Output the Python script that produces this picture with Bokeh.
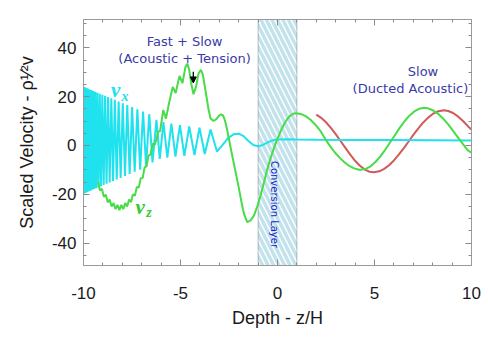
from bokeh.plotting import figure
from bokeh.models import (Range1d, FixedTicker, LinearAxis, BoxAnnotation,
                          Label, Arrow, NormalHead)
from bokeh.embed import file_html
from bokeh.resources import INLINE

# ---------------- data ----------------
# v_x : dense fast oscillation (extrema), then resolved oscillation, then smooth tail
vx_x = [-10.000, -9.970, -9.939, -9.906, -9.872, -9.837, -9.800, -9.762, -9.722,
        -9.681, -9.638, -9.593, -9.546, -9.498, -9.447, -9.394, -9.340, -9.283,
        -9.223, -9.161, -9.097, -9.030, -8.960, -8.887, -8.812, -8.733, -8.651,
        -8.566, -8.477, -8.385, -8.288, -8.188, -8.084, -7.975, -7.862, -7.744,
        -7.622, -7.494, -7.362, -7.223, -7.080, -6.930, -6.774, -6.612, -6.443,
        -6.24, -6.07, -5.88, -5.68, -5.47, -5.26, -5.03, -4.80, -4.55, -4.28,
        -4.02, -3.75, -3.45, -3.12,
        -2.85, -2.55, -2.25, -2.0, -1.75, -1.5, -1.25, -1.0, -0.75, -0.5, -0.25,
        0.0, 0.5, 1.0, 2.0, 4.0, 6.0, 8.0, 10.0]
vx_y = [-19.8, 23.9, -19.6, 23.7, -19.4, 23.5, -19.1, 23.2, -18.8,
        22.9, -18.6, 22.7, -18.2, 22.3, -17.9, 22.0, -17.5, 21.6,
        -17.1, 21.2, -16.7, 20.8, -16.2, 20.3, -15.7, 19.8, -15.2,
        19.3, -14.6, 18.7, -14.0, 18.0, -13.3, 17.3, -12.5, 16.6,
        -11.7, 15.7, -10.8, 14.8, -9.9, 13.9, -8.5, 12.8, -7.0,
        10.5, -5.5, 9.6, -5.0, 8.9, -4.6, 8.3, -4.3, 7.8, -4.0,
        7.3, -3.5, 6.5, -2.5,
        0.0, 3.0, 4.6, 4.8, 3.8, 1.8, 0.2, -0.3, 0.2, 1.3, 2.1,
        2.4, 2.5, 2.4, 2.3, 2.2, 2.2, 2.1, 2.0]

# v_z : green curve
vz_x = [-9.25, -9.15, -9.05, -8.95, -8.85, -8.75, -8.65, -8.55, -8.45, -8.35,
        -8.25, -8.15, -8.05, -7.95, -7.85, -7.75, -7.65, -7.55, -7.45, -7.35,
        -7.25, -7.15, -7.05, -6.95, -6.85, -6.75, -6.65, -6.55,
        -6.42, -6.32, -6.15, -6.05, -5.89, -5.75, -5.6, -5.4, -5.25, -5.05,
        -4.9, -4.75, -4.65, -4.55, -4.45, -4.33, -4.2, -4.07, -3.95, -3.85,
        -3.7, -3.55, -3.45, -3.3, -3.15, -3.0, -2.9, -2.8, -2.7, -2.6,
        -2.45, -2.3, -2.15, -2.0, -1.85, -1.72, -1.56, -1.4, -1.22, -1.05,
        -0.88, -0.7, -0.53, -0.35, -0.18, -0.02, 0.2, 0.4, 0.6, 0.8,
        0.95, 1.2, 1.45, 1.7, 1.95, 2.2, 2.45, 2.7, 2.95, 3.2,
        3.45, 3.7, 3.95, 4.2, 4.3, 4.55, 4.8, 5.05, 5.3, 5.55,
        5.8, 6.05, 6.3, 6.55, 6.8, 7.05, 7.3, 7.55, 7.8, 8.05,
        8.3, 8.55, 8.8, 9.05, 9.3, 9.55, 9.8, 10.0]
vz_y = [-15.0, -18.5, -17.8, -21.0, -20.2, -23.3, -22.2, -25.0, -23.6, -26.1,
        -24.4, -26.5, -24.4, -26.1, -23.6, -25.0, -22.2, -23.2, -20.0, -20.6,
        -17.0, -17.3, -13.4, -13.3, -9.0, -8.6, -4.2, -3.8,
        0.8, 0.3, 5.5, 6.0, 14.5, 11.0, 17.0, 24.0, 21.5, 28.5,
        25.5, 32.0, 33.5, 31.0, 25.5, 21.0, 24.0, 29.5, 31.0, 29.0,
        22.0, 14.5, 11.0, 10.0, 10.8, 12.3, 12.7, 12.2, 10.0, 6.5,
        0.5, -5.5, -11.3, -17.2, -23.5, -28.3, -31.4, -30.8, -28.9, -25.2,
        -20.7, -15.3, -9.8, -5.0, -1.0, 2.4, 6.5, 9.6, 11.8, 13.0,
        13.2, 12.9, 12.0, 10.5, 8.5, 6.1, 2.8, -0.2, -2.8, -5.0,
        -6.9, -8.4, -9.4, -9.95, -10.0, -9.6, -8.55, -6.8, -4.5, -1.8,
        1.2, 4.2, 7.2, 9.9, 12.2, 13.95, 15.0, 15.4, 15.1, 14.2,
        12.8, 10.9, 8.6, 6.0, 3.3, 0.6, -1.9, -3.0]

# red curve (slow, ducted acoustic)
red_x = [2.0, 2.25, 2.5, 2.75, 3.0, 3.25, 3.5, 3.75, 4.0, 4.25, 4.5, 4.75, 4.96,
         5.25, 5.5, 5.75, 6.0, 6.25, 6.5, 6.75, 7.0, 7.25, 7.5, 7.75, 8.0, 8.25,
         8.57, 8.8, 9.05, 9.3, 9.55, 9.8, 10.0]
red_y = [12.6, 11.3, 9.5, 7.2, 4.6, 1.8, -1.0, -3.8, -6.3, -8.3, -9.9, -10.8, -11.0,
         -10.6, -9.6, -8.1, -6.15, -3.8, -1.2, 1.5, 4.3, 6.9, 9.3, 11.3, 12.9, 13.9,
         14.4, 14.1, 13.3, 11.9, 10.1, 8.0, 6.5]

x_major = [-10, -5, 0, 5, 10]
x_labels = ["-10", "-5", "0", "5", "10"]
x_minor = [-9, -8, -7, -6, -4, -3, -2, -1, 1, 2, 3, 4, 6, 7, 8, 9]
y_major = [-40, -20, 0, 20, 40]
y_labels = ["-40", "-20", "0", "20", "40"]
y_minor = [-45, -35, -30, -25, -15, -10, -5, 5, 10, 15, 25, 30, 35, 45, 50]

layer_left, layer_right = -1, 1

# ---------------- figure ----------------
p = figure(width=488, height=337, x_range=Range1d(-10, 10),
           y_range=Range1d(-49.2, 51.6), output_backend="svg",
           toolbar_location=None, min_border_left=83, min_border_right=17,
           min_border_top=19, min_border_bottom=72)
p.xgrid.visible = False
p.ygrid.visible = False
p.outline_line_color = "#9a9a9a"
p.background_fill_color = "white"
p.border_fill_color = "white"

xt = FixedTicker(ticks=x_major, minor_ticks=x_minor)
yt = FixedTicker(ticks=y_major, minor_ticks=y_minor)


def style(ax):
    ax.axis_line_color = "#9a9a9a"
    ax.major_tick_line_color = "#8a8a8a"
    ax.minor_tick_line_color = "#8a8a8a"
    ax.major_tick_in = 6
    ax.major_tick_out = 0
    ax.minor_tick_in = 3
    ax.minor_tick_out = 0
    ax.major_label_text_font = "Liberation Sans"
    ax.major_label_text_font_size = "17px"
    ax.major_label_text_color = "#1a1a1a"
    ax.axis_label_text_font = "Liberation Sans"
    ax.axis_label_text_font_size = "18px"
    ax.axis_label_text_font_style = "normal"
    ax.axis_label_text_color = "#1a1a1a"


p.xaxis.ticker = xt
p.yaxis.ticker = yt
style(p.xaxis[0])
style(p.yaxis[0])
p.xaxis.major_label_overrides = dict(zip(x_major, x_labels))
p.yaxis.major_label_overrides = dict(zip(y_major, y_labels))
p.xaxis.major_label_standoff = 21
p.yaxis.major_label_standoff = 7
p.xaxis.axis_label = "Depth - z/H"
p.yaxis.axis_label = "Scaled Velocity - ρ¹⁄²v"
p.xaxis.axis_label_standoff = 6
p.yaxis.axis_label_standoff = 12

top_ax = LinearAxis(ticker=xt)
right_ax = LinearAxis(ticker=yt)
for ax, ticks in ((top_ax, x_major), (right_ax, y_major)):
    style(ax)
    ax.major_label_overrides = {t: "" for t in ticks}
    ax.major_label_text_font_size = "1px"
    ax.major_label_standoff = 0
p.add_layout(top_ax, "above")
p.add_layout(right_ax, "right")

# conversion layer (hatched box)
box = BoxAnnotation(left=layer_left, right=layer_right, fill_color=None,
                    hatch_pattern="\\", hatch_color="#c2e2ec", hatch_weight=3.5,
                    hatch_scale=11, line_color="#333333", line_width=1,
                    level="underlay")
p.add_layout(box)

# curves
p.line(red_x, red_y, line_color="#d05a5a", line_width=2)
p.line(vx_x, vx_y, line_color="#1fe2ee", line_width=2)
p.line(vz_x, vz_y, line_color="#48dc48", line_width=2)

# ---------------- annotations ----------------
ann = "#3a3aa8"
F = "DejaVu Sans"
for txt, x, y in [("Fast + Slow", -4.79, 42.6), ("(Acoustic + Tension)", -4.79, 35.7),
                  ("Slow", 7.5, 30.3), ("(Ducted Acoustic)", 6.85, 23.4)]:
    p.add_layout(Label(x=x, y=y, text=txt, text_font=F, text_font_size="13px",
                       text_color=ann, text_align="center", text_baseline="middle"))

p.add_layout(Label(x=-0.15, y=-24.2, text="Conversion Layer", text_font=F,
                   text_font_size="10px", text_color="#2222cc", angle=-1.5708,
                   text_align="center", text_baseline="middle"))

p.add_layout(Arrow(end=NormalHead(size=6, fill_color="black", line_color="black"),
                   x_start=-4.34, y_start=30.2, x_end=-4.34, y_end=25.6,
                   line_width=1.3, line_color="black"))

# curve labels v_x, v_z
p.add_layout(Label(x=-8.34, y=22.6, text="v", text_font="Liberation Serif",
                   text_font_style="bold italic", text_font_size="21px",
                   text_color="#22e0ee", text_align="center", text_baseline="middle"))
p.add_layout(Label(x=-7.86, y=20.2, text="x", text_font="Liberation Serif",
                   text_font_style="bold italic", text_font_size="14px",
                   text_color="#22e0ee", text_align="center", text_baseline="middle"))
p.add_layout(Label(x=-7.08, y=-25.4, text="v", text_font="Liberation Serif",
                   text_font_style="bold italic", text_font_size="21px",
                   text_color="#33cc33", text_align="center", text_baseline="middle"))
p.add_layout(Label(x=-6.62, y=-27.6, text="z", text_font="Liberation Serif",
                   text_font_style="bold italic", text_font_size="14px",
                   text_color="#33cc33", text_align="center", text_baseline="middle"))

open("out.html", "w").write(file_html(p, INLINE))
